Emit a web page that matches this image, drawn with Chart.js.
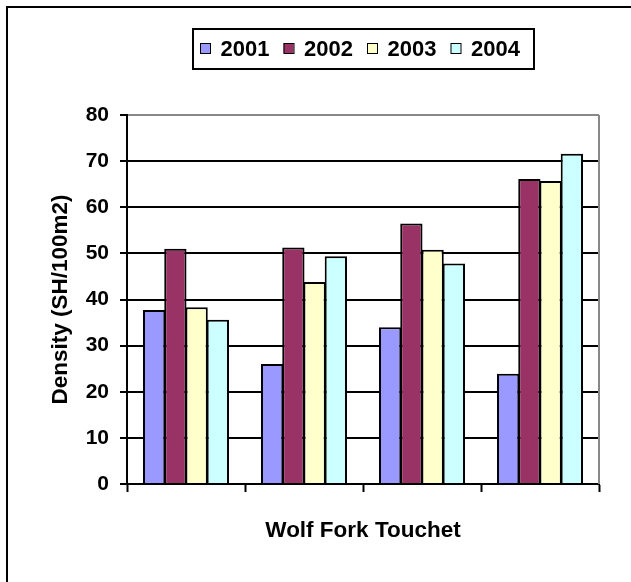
<!DOCTYPE html>
<html>
<head>
<meta charset="utf-8">
<script src="https://cdn.jsdelivr.net/npm/chart.js@4/dist/chart.umd.min.js"></script>
<style>
  html, body { margin: 0; padding: 0; background: #ffffff; }
  canvas { display: block; }
</style>
</head>
<body>
<canvas id="c" width="631" height="582"></canvas>
<script>
// Steelhead density per reach, Wolf Fork Touchet, 2001-2004
const sites = ['Reach 1', 'Reach 2', 'Reach 3', 'Reach 4'];
const years = ['2001', '2002', '2003', '2004'];
const density2001 = [37.7, 26.0, 34.0, 23.9];
const density2002 = [51.0, 51.3, 56.5, 66.1];
const density2003 = [38.3, 43.8, 50.8, 65.7];
const density2004 = [35.6, 49.4, 47.8, 71.6];
const yTicks = [0, 10, 20, 30, 40, 50, 60, 70, 80];

const seriesValues = [density2001, density2002, density2003, density2004];
const seriesColors = ['#9999FF', '#993366', '#FFFFCC', '#CCFFFF'];
const FONT = '"Liberation Sans", Arial, sans-serif';

// frame, plot border and boxed legend
const decorations = {
  id: 'decorations',
  beforeDraw(chart) {
    const ctx = chart.ctx;
    ctx.save();
    ctx.fillStyle = '#ffffff';
    ctx.fillRect(0, 0, chart.width, chart.height);
    ctx.strokeStyle = '#000000';
    ctx.lineWidth = 2;
    ctx.beginPath();
    ctx.moveTo(7, chart.height);
    ctx.lineTo(7, 7);
    ctx.lineTo(chart.width, 7);
    ctx.stroke();
    ctx.restore();
  },
  afterDraw(chart) {
    const ctx = chart.ctx;
    const a = chart.chartArea;
    ctx.save();
    // right edge of the plot area
    ctx.strokeStyle = '#888888';
    ctx.lineWidth = 2;
    ctx.beginPath();
    ctx.moveTo(a.right, a.top);
    ctx.lineTo(a.right, a.bottom);
    ctx.stroke();

    // legend
    ctx.strokeStyle = '#000000';
    ctx.lineWidth = 2;
    ctx.strokeRect(193, 29, 341, 40);
    ctx.font = 'bold 22px ' + FONT;
    ctx.textBaseline = 'middle';
    ctx.textAlign = 'left';
    chart.data.datasets.forEach((ds, i) => {
      const x = 200 + i * 83.5;
      ctx.fillStyle = ds.backgroundColor;
      ctx.fillRect(x, 43, 10, 10);
      ctx.lineWidth = 1;
      ctx.strokeStyle = '#000000';
      ctx.strokeRect(x + 0.5, 43.5, 10, 10);
      ctx.fillStyle = '#000000';
      ctx.fillText(ds.label, x + 20.5, 49.5);
    });
    ctx.restore();
  }
};

new Chart(document.getElementById('c'), {
  type: 'bar',
  data: {
    labels: sites,
    datasets: years.map((y, i) => ({
      label: y,
      data: seriesValues[i],
      backgroundColor: seriesColors[i],
      borderColor: '#000000',
      borderWidth: 2,
      barPercentage: 1.05,
      categoryPercentage: 0.72
    }))
  },
  options: {
    responsive: false,
    animation: false,
    devicePixelRatio: 1,
    layout: { padding: { left: 43, top: 115, right: 32, bottom: 33.5 } },
    plugins: {
      legend: { display: false },
      tooltip: { enabled: false }
    },
    scales: {
      x: {
        grid: {
          display: true,
          drawOnChartArea: false,
          drawTicks: true,
          tickLength: 8,
          tickColor: '#000000',
          tickWidth: 2,
          offset: true
        },
        border: { display: true, color: '#000000', width: 2 },
        ticks: { display: false },
        title: {
          display: true,
          text: 'Wolf Fork Touchet',
          color: '#000000',
          font: { family: FONT, size: 22.5, weight: 'bold' }
        },
        afterFit(scale) { scale.height = 64.5; }
      },
      y: {
        min: 0,
        max: 80,
        afterBuildTicks(scale) { scale.ticks = yTicks.map(v => ({ value: v })); },
        grid: {
          color: ctx => (ctx.tick && ctx.tick.value === 80 ? '#888888' : '#000000'),
          lineWidth: 2,
          drawTicks: true,
          tickLength: 7,
          tickColor: '#000000',
          tickWidth: 2
        },
        border: { display: true, color: '#000000', width: 2 },
        ticks: {
          color: '#000000',
          padding: 11,
          font: { family: FONT, size: 21, weight: 'bold' }
        },
        title: {
          display: true,
          text: 'Density (SH/100m2)',
          color: '#000000',
          font: { family: FONT, size: 22.5, weight: 'bold' }
        },
        afterFit(scale) { scale.width = 84; }
      }
    }
  },
  plugins: [decorations]
});
</script>
</body>
</html>
